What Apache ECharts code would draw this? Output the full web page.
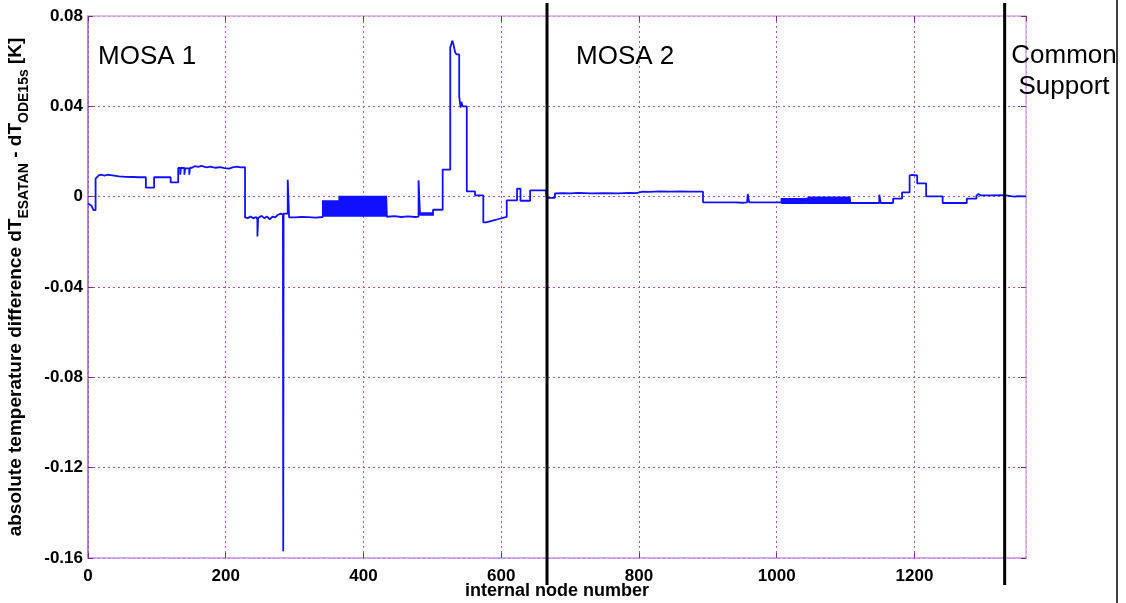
<!DOCTYPE html>
<html><head><meta charset="utf-8">
<script src="https://cdn.jsdelivr.net/npm/echarts@6/dist/echarts.min.js"></script>
<style>html,body{margin:0;padding:0;background:#fff}#c{width:1126px;height:603px}</style>
</head><body><div id="c"></div>
<script>
// ---- data: [internal node number, dT_ESATAN - dT_ODE15s (K)] ----
const mosa1Start = [[0,-0.003],[5,-0.004],[8,-0.006],[11,-0.006],[11,0.008],[13,0.0088],[16,0.0095],[20,0.0097],[24,0.0093],[28,0.0097],[33,0.0095],[38,0.0093],[45,0.009],[55,0.0088],[65,0.0087],[75,0.0086],[84,0.0086],[84,0.004],[96,0.004],[96,0.0086],[120,0.0086],[120,0.0063],[131,0.0063],[131,0.0127],[134,0.0127],[134,0.0097],[135,0.0127],[140,0.0127],[140,0.0097],[141,0.0125],[147,0.0125],[147,0.0097],[148,0.0127],[151,0.0128],[155,0.0135],[160,0.0132],[165,0.0136],[172,0.013],[178,0.0133],[185,0.0128],[192,0.0131],[198,0.0126],[205,0.0124],[210,0.013],[216,0.0133],[222,0.013],[228,0.0131]];
const mosa1Low = [[228,-0.0092],[232,-0.0095],[236,-0.0088],[240,-0.0096],[244,-0.009],[246,-0.01],[246,-0.0176],[247,-0.0095],[252,-0.0085],[256,-0.0095],[260,-0.0088],[264,-0.01],[268,-0.0088],[272,-0.0092],[276,-0.008],[280,-0.0075],[282,-0.007],[283,-0.008],[283.5,-0.157],[284,-0.0075],[290,-0.0075],[290,0.0075],[291,0.0075],[292,-0.0092],[300,-0.0092],[310,-0.009],[320,-0.0091],[330,-0.0093],[341,-0.009]];
const denseAStart = 341;
const denseAVals = [-0.0016,-0.0089,-0.0016,-0.0089,-0.0016,-0.0089,-0.0016,-0.0089,-0.0016,-0.0089,-0.0016,-0.0089,-0.0016,-0.0089,-0.0016,-0.0089,-0.0016,-0.0089,-0.0016,-0.0089,-0.0016,-0.0089,-0.0016,-0.0089];
const denseBStart = 365;
const denseBVals = [0.0004,-0.0089,0.0004,-0.0089,0.0004,-0.0089,0.0004,-0.0089,0.0004,-0.0089,0.0004,-0.0089,0.0004,-0.0089,0.0004,-0.0089,0.0004,-0.0089,0.0004,-0.0089,0.0004,-0.0089,0.0004,-0.0089,0.0004,-0.0089,0.0004,-0.0089,0.0004,-0.0089,0.0004,-0.0089,0.0004,-0.0089,0.0004,-0.0089,0.0004,-0.0089,0.0004,-0.0089,0.0004,-0.0089,0.0004,-0.0089,0.0004,-0.0089,0.0004,-0.0089,0.0004,-0.0089,0.0004,-0.0089,0.0004,-0.0089,0.0004,-0.0089,0.0004,-0.0089,0.0004,-0.0089,0.0004,-0.0089,0.0004,-0.0089,0.0004,-0.0089,0.0004,-0.0089,0.0004,-0.0089];
const mosa1Mid = [[445,-0.0086],[455,-0.009],[465,-0.0087],[475,-0.009],[480,-0.0088],[480,0.0072],[482,0.0072],[482,-0.0072]];
const denseCStart = 483;
const denseCVals = [-0.0084,-0.007,-0.0084,-0.007,-0.0084,-0.007,-0.0084,-0.007,-0.0084,-0.007,-0.0084,-0.007,-0.0084,-0.007,-0.0084,-0.007,-0.0084,-0.007,-0.0084];
const mosa1Peak = [[501,-0.0058],[515,-0.0058],[515,0.012],[526,0.012],[526,0.066],[529,0.069],[531,0.067],[533,0.064],[535,0.063],[539,0.063],[539,0.0444],[541,0.0394],[542,0.042],[544,0.04],[550,0.04],[550,0.0023],[562,0.0023],[562,0.0006],[574,0.0006],[574,-0.0114],[578,-0.0114],[585,-0.0108],[595,-0.01],[608,-0.009],[608,-0.0016],[623,-0.0016],[623,0.0035],[628,0.0035],[628,-0.0018],[642,-0.0018],[642,0.0028],[665,0.0028]];
const mosa2Part = [[666,-0.0005],[678,-0.0005],[678,0.0015],[690,0.0016],[700,0.0015],[712,0.0017],[730,0.0015],[750,0.0016],[770,0.0015],[785,0.0017],[796,0.0016],[796,0.002],[805,0.0022],[815,0.0021],[830,0.0023],[845,0.0022],[860,0.0023],[875,0.0022],[893,0.0022],[893,-0.0025],[940,-0.0025],[950,-0.0027],[957,-0.0025],[958,0.0012],[959,0.0012],[960,-0.0025],[1007,-0.0025]];
const denseDStart = 1007;
const denseDVals = [-0.0006,-0.0032,-0.0006,-0.0032,-0.0006,-0.0032,-0.0006,-0.0032,-0.0006,-0.0032,-0.0006,-0.0032,-0.0006,-0.0032,-0.0006,-0.0032,-0.0006,-0.0032,-0.0006,-0.0032,-0.0006,-0.0032,-0.0006,-0.0032,-0.0006,-0.0032,-0.0006,-0.0032,-0.0006,-0.0032,-0.0006,-0.0032,-0.0006,-0.0032,-0.0006,-0.0032,-0.0006];
const denseEStart = 1044;
const denseEVals = [0.0,-0.0032,0.0,-0.0032,0.0,-0.0032,0.0,-0.0032,0.0,-0.0032,0.0,-0.0032,0.0,-0.0032,0.0,-0.0032,0.0,-0.0032,0.0,-0.0032,0.0,-0.0032,0.0,-0.0032,0.0,-0.0032,0.0,-0.0032,0.0,-0.0032,0.0,-0.0032,0.0,-0.0032,0.0,-0.0032,0.0,-0.0032,0.0,-0.0032,0.0,-0.0032,0.0,-0.0032,0.0,-0.0032,0.0,-0.0032,0.0,-0.0032,0.0,-0.0032,0.0,-0.0032,0.0,-0.0032,0.0,-0.0032,0.0,-0.0032,0.0,-0.0032,0.0];
const tailPart = [[1107,-0.0028],[1125,-0.0028],[1149,-0.0028],[1149,0.0009],[1150,0.0009],[1151,-0.0028],[1169,-0.0028],[1169,-0.0009],[1182,-0.0009],[1182,0.0019],[1193,0.0019],[1193,0.0094],[1197,0.0096],[1204,0.0094],[1204,0.0059],[1217,0.0059],[1217,0.0001],[1241,0.0001],[1241,-0.0028],[1276,-0.0028],[1276,-0.0009],[1290,-0.0009],[1290,0.0004],[1293,0.0012],[1296,0.0006],[1310,0.0006],[1330,0.0007],[1340,0.0002],[1345,0.0],[1350,0.0002],[1362,0.0001]];
const dividerNodes = [666.5, 1331];
const regionLabels = ['MOSA 1', 'MOSA 2', 'Common\nSupport'];
const xMax = 1362;

function seq(start, vals) { return vals.map((v, i) => [start + i, v]); }
const seriesData = [].concat(
  mosa1Start, mosa1Low, seq(denseAStart, denseAVals), seq(denseBStart, denseBVals),
  mosa1Mid, seq(denseCStart, denseCVals), mosa1Peak, mosa2Part,
  seq(denseDStart, denseDVals), seq(denseEStart, denseEVals), tailPart);

const FONT = '"Liberation Sans", Arial, sans-serif';
const gridLine = { show: true, lineStyle: { color: '#a855b0', type: [2, 3], width: 1 } };
const chart = echarts.init(document.getElementById('c'), null, { renderer: 'canvas' });
chart.setOption({
  animation: false,
  backgroundColor: '#fff',
  grid: { left: 88, right: 100, top: 16, bottom: 45, containLabel: false, outerBoundsMode: 'none' },
  xAxis: [{
    type: 'value', min: 0, max: xMax, interval: 200, position: 'bottom',
    axisLine: { show: true, onZero: false, lineStyle: { color: '#c890e0', width: 1.5 } },
    axisTick: { show: true, inside: true, length: 5, lineStyle: { color: '#7a2a80' } },
    axisLabel: { color: '#000', fontFamily: FONT, fontWeight: 'bold', fontSize: 17, margin: 10, showMaxLabel: false,
      formatter: v => String(v) },
    splitLine: gridLine,
    name: 'internal node number', nameLocation: 'middle', nameGap: 24, nameMoveOverlap: false,
    nameTextStyle: { color: '#000', fontFamily: FONT, fontWeight: 'bold', fontSize: 18 }
  }, {
    type: 'value', min: 0, max: xMax, interval: 200, position: 'top',
    axisLine: { show: true, onZero: false, lineStyle: { color: '#d8a8e8', width: 1.5 } },
    axisTick: { show: true, inside: true, length: 5, lineStyle: { color: '#7a2a80' } },
    axisLabel: { show: false }, splitLine: { show: false }
  }],
  yAxis: [{
    type: 'value', min: -0.16, max: 0.08, interval: 0.04, position: 'left',
    axisLine: { show: true, onZero: false, lineStyle: { color: '#9a60b0', width: 1.5 } },
    axisTick: { show: true, inside: true, length: 5, lineStyle: { color: '#7a2a80' } },
    axisLabel: { color: '#000', fontFamily: FONT, fontWeight: 'bold', fontSize: 17, margin: 5,
      formatter: v => { const r = Math.round(v * 100) / 100; return r === 0 ? '0' : String(r); } },
    splitLine: gridLine,
    name: '{m|absolute temperature difference dT}{s|ESATAN}{m| - dT}{s|ODE15s}{m| [K]}',
    nameLocation: 'middle', nameGap: 56, nameRotate: 90,
    nameTextStyle: {
      color: '#000', fontFamily: FONT, fontWeight: 'bold',
      rich: {
        m: { fontSize: 19, fontWeight: 'bold', fontFamily: FONT, color: '#000', lineHeight: 19, padding: [0, 0, 8, 0] },
        s: { fontSize: 14, fontWeight: 'bold', fontFamily: FONT, color: '#000', lineHeight: 14, padding: [8, 0, 0, 0] }
      }
    }
  }, {
    type: 'value', min: -0.16, max: 0.08, interval: 0.04, position: 'right',
    axisLine: { show: true, onZero: false, lineStyle: { color: '#d8a8e8', width: 1.5 } },
    axisTick: { show: true, inside: true, length: 5, lineStyle: { color: '#7a2a80' } },
    axisLabel: { show: false }, splitLine: { show: false }
  }],
  series: [{
    type: 'line', data: seriesData, xAxisIndex: 0, yAxisIndex: 0,
    showSymbol: false, symbol: 'none',
    lineStyle: { color: '#1010ff', width: 1.8 },
    emphasis: { disabled: true }
  }]
});

const dividerX = dividerNodes.map(n => chart.convertToPixel({ xAxisIndex: 0 }, n));
const graphics = dividerX.map(x => ({
  type: 'line', silent: true, z: 100,
  shape: { x1: x, y1: 3, x2: x, y2: 585 },
  style: { stroke: '#000', lineWidth: 3 }
}));
graphics.push({ type: 'line', silent: true, z: 100, shape: { x1: 1117, y1: 0, x2: 1117, y2: 603 }, style: { stroke: '#000', lineWidth: 1.5 } });
graphics.push({ type: 'text', silent: true, z: 100, style: { text: regionLabels[0], x: 98, y: 57, font: '26px ' + FONT, fill: '#000', textVerticalAlign: 'middle' } });
graphics.push({ type: 'text', silent: true, z: 100, style: { text: regionLabels[1], x: 576, y: 57, font: '26px ' + FONT, fill: '#000', textVerticalAlign: 'middle' } });
graphics.push({ type: 'text', silent: true, z: 100, style: { text: regionLabels[2], x: 1064, y: 71, font: '26px ' + FONT, fill: '#000', textAlign: 'center', textVerticalAlign: 'middle', lineHeight: 31 } });
chart.setOption({ graphic: graphics });
</script></body></html>
